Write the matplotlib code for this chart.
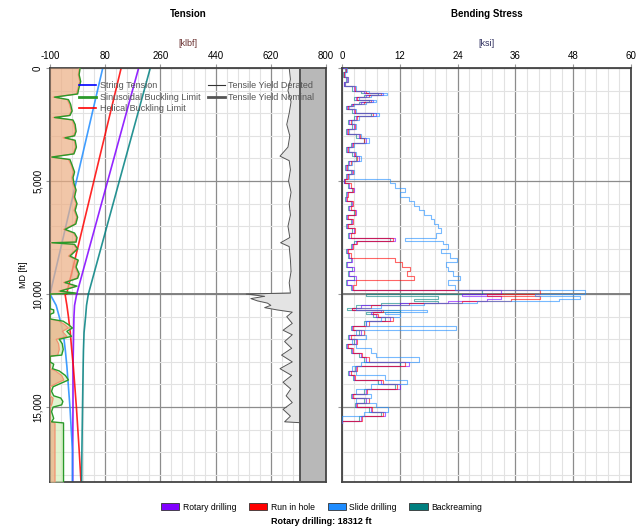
import matplotlib.pyplot as plt
import numpy as np
from matplotlib.patches import Patch
from matplotlib.lines import Line2D
from matplotlib.ticker import FuncFormatter, MultipleLocator, FixedLocator

plt.rcParams['font.family'] = ['Liberation Sans', 'DejaVu Sans']
plt.rcParams['axes.unicode_minus'] = False

# ---- data ----
TD = 18312

# buckling limits, upper string (0 - 10000 ft), klbf
up_md = [0, 300, 600, 900, 1150, 1290, 1400, 1600, 1900, 2100, 2190, 2300, 2500, 2800, 3000,
         3090, 3200, 3500, 3800, 3940, 4050, 4300, 4600, 4850, 5100, 5400, 5700, 6000, 6300,
         6600, 6900, 7140, 7300, 7500, 7700, 7730, 7800, 8000, 8320, 8500, 8800, 9100, 9300,
         9490, 9650, 9870, 9960, 10000]
up_sin = [-2, -5, 0, -6, -10, -85, -40, -33, -28, -35, -85, -25, -18, -15, -20,
          -51, -18, -14, -22, -94, -35, -28, -20, -25, -22, -15, -20, -12, -18,
          -10, -16, -51, -20, -12, -15, -94, -20, -10, -35, -8, -15, -5, -10,
          -51, -12, -67, -15, -100]
up_hel = [-4, -8, -3, -9, -14, -90, -44, -37, -31, -38, -90, -28, -22, -18, -24,
          -58, -21, -17, -25, -97, -40, -31, -24, -29, -26, -18, -24, -15, -22,
          -13, -20, -56, -24, -15, -18, -97, -24, -13, -40, -11, -19, -8, -13,
          -56, -15, -72, -19, -100]

# buckling limits, lower string (10000 ft - TD)
lo_md = [10000, 10650, 10700, 10830, 10900, 11100, 11200, 11350, 11500, 11650, 11870, 12000,
         12200, 12450, 12700, 12750, 13000, 13100, 13300, 13400, 13600, 13800, 13920, 14100,
         14300, 14500, 14600, 14750, 14900, 15000, 15200, 15500, 15650, 15700, TD]
lo_sin = [-100, -100, -88, -88, -100, -100, -57, -40, -27, -45, -30, -70,
          -60, -57, -62, -100, -100, -88, -92, -70, -50, -40, -60, -90,
          -95, -88, -65, -58, -62, -90, -95, -88, -95, -56, -56]
lo_hel = [-100, -100, -100, -100, -100, -100, -70, -52, -40, -60, -45, -80,
          -72, -70, -75, -100, -100, -100, -100, -82, -62, -55, -75, -100,
          -100, -100, -90, -92, -95, -100, -100, -100, -100, -84, -84]

# string tension per operation, klbf
st_md_up = [0, 10000]
st_md_lo = [10000, 10500, 11000, 11700, 12500, 13200, 15000, 16900, TD]
rot_up = [189, -13]
rih_up = [132, -46]
sld_up = [72, -100]
brm_up = [227, 25]
rot_lo = [-13, -20, -22, -23, -24, -25, -25, -26, -26]
rih_lo = [-51, -45, -40, -34, -29, -24, -14, -5, 1]
sld_lo = [-100, -80, -70, -57, -50, -45, -35, -27, -27]
brm_lo = [25, 19, 16, 11, 9, 8, 6, 4, 3]

# tensile yield derated
ty_md = [0, 500, 1000, 1500, 2000, 2500, 3000, 3500, 3900, 4100, 4500, 5000, 5500, 6000,
         6500, 7000, 7500, 7730, 7900, 8500, 9000, 9500, 9950, 10000, 10100, 10200, 10300,
         10400, 10500, 10600, 10700, 10800, 11000, 11300, 11600, 11800, 12100, 12400, 12700,
         13000, 13300, 13600, 13900, 14200, 14500, 14800, 15100, 15400, 15650, 15690, TD]
ty_der = [680, 684, 676, 686, 680, 672, 682, 676, 650, 680, 684, 678, 686, 680,
          684, 676, 682, 652, 680, 684, 686, 680, 684, 540, 600, 555, 576,
          609, 620, 600, 640, 690, 672, 690, 660, 690, 665, 688, 655,
          690, 650, 688, 660, 685, 670, 690, 660, 684, 665, 716, 716]
ty_nom = 716

# bending stress, ksi
bs_md = [0, 200, 400, 600, 800, 1000, 1100, 1200, 1300, 1400, 1500, 1600, 1700, 1800, 2000,
         2130, 2300, 2500, 2700, 2900, 3100, 3300, 3500, 3700, 3900, 4100, 4300, 4500, 4700,
         4900, 5100, 5300, 5500, 5700, 5900, 6100, 6300, 6500, 6700, 6900, 7100, 7300, 7500,
         7650, 7800, 8000, 8200, 8400, 8600, 8800, 9000, 9200, 9400, 9600, 9800, 10000, 10100,
         10200, 10300, 10400, 10500, 10600, 10700, 10800, 10900, 11000, 11200, 11400, 11600,
         11800, 12000, 12200, 12400, 12600, 12800, 13000, 13200, 13400, 13600, 13800, 14000,
         14200, 14400, 14600, 14800, 15000, 15200, 15400, 15600, 15720]
bs_rot = [0.3, 0.8, 0.4, 1.0, 0.5, 2.5, 4.5, 8.5, 5.0, 3.0, 6.5, 4.0, 2.0, 1.0, 2.5,
          7.0, 3.0, 1.5, 2.5, 1.0, 3.5, 5.0, 2.0, 1.0, 2.5, 3.5, 1.5, 0.8, 2.0,
          1.0, 0.5, 1.5, 2.5, 1.0, 0.8, 2.0, 1.5, 3.0, 1.0, 2.0, 1.0, 2.5, 1.5,
          11.0, 3.0, 2.0, 1.0, 1.5, 2.0, 1.0, 2.5, 1.5, 3.0, 1.0, 2.0, 33.0, 25.0,
          33.0, 30.0, 22.0, 12.0, 4.0, 2.0, 8.0, 6.0, 7.0, 10.0, 5.0, 2.0,
          4.0, 1.5, 3.0, 1.0, 2.0, 4.0, 5.0, 14.0, 3.0, 1.5, 2.5, 8.0,
          12.0, 5.0, 2.0, 5.0, 3.0, 6.0, 9.0, 4.0, 0.0]
bs_rih = [0.4, 0.9, 0.5, 1.2, 0.6, 2.8, 5.0, 8.0, 5.5, 3.2, 6.0, 4.5, 2.2, 1.2, 2.8,
          6.5, 3.2, 1.8, 2.8, 1.2, 3.8, 4.6, 2.2, 1.3, 2.8, 3.2, 1.8, 1.0, 2.2,
          1.2, 0.7, 1.8, 2.2, 1.2, 1.0, 2.2, 1.8, 2.8, 1.2, 2.2, 1.2, 2.8, 1.8,
          10.5, 3.2, 2.2, 1.2, 1.8, 11.0, 12.5, 14.2, 13.5, 15.0, 3.0, 2.2, 41.0, 30.0,
          41.0, 35.0, 25.0, 14.0, 6.0, 2.0, 8.5, 6.5, 7.5, 10.5, 5.5, 2.2,
          4.5, 1.8, 3.2, 1.2, 2.2, 4.2, 5.5, 13.0, 3.2, 1.8, 2.8, 8.5,
          11.5, 5.2, 2.2, 5.5, 3.2, 6.2, 8.5, 4.2, 0.0]
bs_sld = [0.5, 1.0, 0.6, 1.3, 0.7, 3.0, 5.5, 9.3, 6.0, 3.5, 7.0, 5.0, 2.5, 1.4, 3.0,
          7.7, 3.5, 2.0, 3.0, 1.4, 4.0, 5.5, 2.5, 1.5, 3.0, 4.0, 2.0, 1.2, 2.5,
          1.5, 10.0, 11.0, 13.0, 12.0, 14.0, 15.0, 16.0, 17.0, 18.5, 19.0, 20.0, 20.5, 19.5,
          13.0, 21.0, 22.0, 20.5, 22.5, 23.8, 21.5, 22.0, 23.0, 24.5, 22.0, 23.5, 50.5, 40.0,
          49.5, 45.0, 28.0, 17.0, 8.0, 3.0, 17.6, 9.0, 12.0, 8.0, 5.0, 23.7,
          3.0, 5.0, 2.0, 3.0, 6.0, 7.0, 16.0, 4.0, 2.0, 3.0, 9.0, 13.5,
          6.0, 3.0, 6.0, 3.0, 7.0, 9.5, 4.5, 0.0, 0.0]
bs_brm = [0.2, 0.6, 0.3, 0.8, 0.4, 2.0, 4.0, 7.5, 4.5, 2.5, 5.5, 3.5, 1.8, 0.8, 2.0,
          6.0, 2.5, 1.2, 2.0, 0.8, 3.0, 4.5, 1.8, 0.8, 2.0, 3.0, 1.2, 0.6, 1.8,
          0.8, 0.4, 1.2, 2.0, 0.8, 0.6, 1.8, 1.2, 2.5, 0.8, 1.8, 0.8, 2.0, 1.2,
          10.0, 2.5, 1.8, 0.8, 1.2, 1.8, 0.8, 2.0, 1.2, 2.5, 0.8, 1.8, 29.0, 5.0,
          20.0, 15.0, 20.0, 8.0, 3.0, 1.0, 12.0, 5.0, 6.5, 9.0, 4.5, 1.8,
          3.5, 1.2, 2.5, 0.8, 1.8, 3.5, 4.5, 12.0, 2.8, 1.2, 2.2, 7.5,
          11.0, 4.5, 1.8, 4.5, 2.8, 5.5, 8.0, 3.5, 0.0]

ops = ['Rotary drilling', 'Run in hole', 'Slide drilling', 'Backreaming']
op_colors = ['#8000ff', '#ff0000', '#1e8cff', '#008080']

# ---- figure ----
fig = plt.figure(figsize=(6.43, 5.31), dpi=100)
ax1 = fig.add_axes([0.0778, 0.0923, 0.4292, 0.7797])
ax2 = fig.add_axes([0.5319, 0.0923, 0.4495, 0.7797])

for ax in (ax1, ax2):
    ax.set_ylim(TD, 0)
    ax.xaxis.tick_top()
    ax.yaxis.set_major_locator(MultipleLocator(5000))
    ax.yaxis.set_minor_locator(MultipleLocator(1000))
    ax.grid(True, which='minor', color='#e2e2e2', lw=0.8)
    ax.grid(True, which='major', color='#8c8c8c', lw=0.9)
    ax.axhline(10000, color='#808080', lw=1.4, zorder=1)
    ax.tick_params(which='both', labelsize=7, length=3, color='#999999', pad=2)
    ax.tick_params(which='minor', length=0)
    for s in ax.spines.values():
        s.set_color('#444444')
        s.set_linewidth(1.3)
    ax.set_axisbelow(True)

# tension panel
ax1.set_xlim(-100, 800)
ax1.xaxis.set_major_locator(FixedLocator(np.arange(-100, 801, 180)))
ax1.xaxis.set_minor_locator(FixedLocator(np.arange(-100, 801, 36)))
ax1.yaxis.set_major_formatter(FuncFormatter(lambda v, p: f'{int(v):,}'))
ax1.tick_params(axis='y', rotation=90)
for lbl in ax1.get_yticklabels():
    lbl.set_va('center')
ax1.set_ylabel('MD [ft]', fontsize=6.5, labelpad=4)

ax1.fill_betweenx(ty_md, ty_der, ty_nom, color='#e4e4e4', lw=0, zorder=1.5)
ax1.axvspan(ty_nom, 800, color='#b8b8b8', lw=0, zorder=1.5)
ax1.plot(ty_der, ty_md, color='#555555', lw=0.7, zorder=3)
ax1.axvline(ty_nom, color='#555555', lw=1.4, zorder=3)

for up, lo, c in zip([rot_up, rih_up, sld_up, brm_up], [rot_lo, rih_lo, sld_lo, brm_lo], op_colors):
    ax1.plot(up, st_md_up, color=c, lw=1.2, alpha=0.85, zorder=2.5)
    ax1.plot(lo, st_md_lo, color=c, lw=1.2, alpha=0.85, zorder=2.5)

# buckling fills sit over the tension lines, slightly see-through
ax1.fill_betweenx(up_md, -100, up_sin, color='#ecae83', alpha=0.7, lw=0, zorder=2.6)
ax1.fill_betweenx(lo_md, -100, lo_sin, color='#d2f0bc', alpha=0.7, lw=0, zorder=2.6)
ax1.fill_betweenx(lo_md, -100, lo_hel, color='#ecae83', alpha=0.7, lw=0, zorder=2.7)
ax1.plot(up_hel, up_md, color='#f49070', lw=0.8, zorder=3)
ax1.plot(lo_hel, lo_md, color='#f49070', lw=0.8, zorder=3)
ax1.plot(up_sin, up_md, color='#2a9a2a', lw=1.0, zorder=3)
ax1.plot(lo_sin, lo_md, color='#2a9a2a', lw=1.0, zorder=3)

handles = [Line2D([], [], color='blue', lw=1.2),
           Line2D([], [], color='#2a9a2a', lw=2),
           Line2D([], [], color='red', lw=1.2),
           Line2D([], [], color='#333333', lw=0.8),
           Line2D([], [], color='#555555', lw=2)]
labels = ['String Tension', 'Sinusoidal Buckling Limit', 'Helical Buckling Limit',
          'Tensile Yield Derated', 'Tensile Yield Nominal']
leg = ax1.legend(handles, labels, ncol=2, loc='upper left', bbox_to_anchor=(0.105, 0.968),
                 frameon=False, fontsize=6.5, handlelength=1.9, labelspacing=0.28,
                 columnspacing=0.8, handletextpad=0.4, borderaxespad=0, borderpad=0)
leg.set_zorder(5)
for t in leg.get_texts():
    t.set_color('#555555')

ax1.set_title('Tension', fontsize=7, fontweight='bold', pad=37)
ax1.text(0.5, 1.052, '[klbf]', transform=ax1.transAxes, ha='center', fontsize=6.5, color='#6a3030')

# bending stress panel
ax2.set_xlim(0, 60)
ax2.xaxis.set_major_locator(MultipleLocator(12))
ax2.xaxis.set_minor_locator(MultipleLocator(2.4))
ax2.set_yticklabels([])
for vals, c in zip([bs_brm, bs_rot, bs_rih, bs_sld], [op_colors[3], op_colors[0], op_colors[1], op_colors[2]]):
    ax2.plot(vals, bs_md, color=c, lw=0.8, alpha=0.6, drawstyle='steps-post', zorder=3)
ax2.set_title('Bending Stress', fontsize=7, fontweight='bold', pad=37)
ax2.text(0.5, 1.052, '[ksi]', transform=ax2.transAxes, ha='center', fontsize=6.5, color='#303060')

# bottom legend
patches = [Patch(facecolor=c, edgecolor='#333333', lw=0.6) for c in op_colors]
fig.legend(patches, ops, ncol=4, loc='center', bbox_to_anchor=(0.5, 0.045), frameon=False,
           fontsize=6.2, handlelength=2.1, handleheight=0.9, columnspacing=1.5, handletextpad=0.4)
fig.text(0.5, 0.017, 'Rotary drilling: 18312 ft', ha='center', va='center', fontsize=6.5,
         fontweight='bold')

fig.savefig('out.png', dpi=100)
